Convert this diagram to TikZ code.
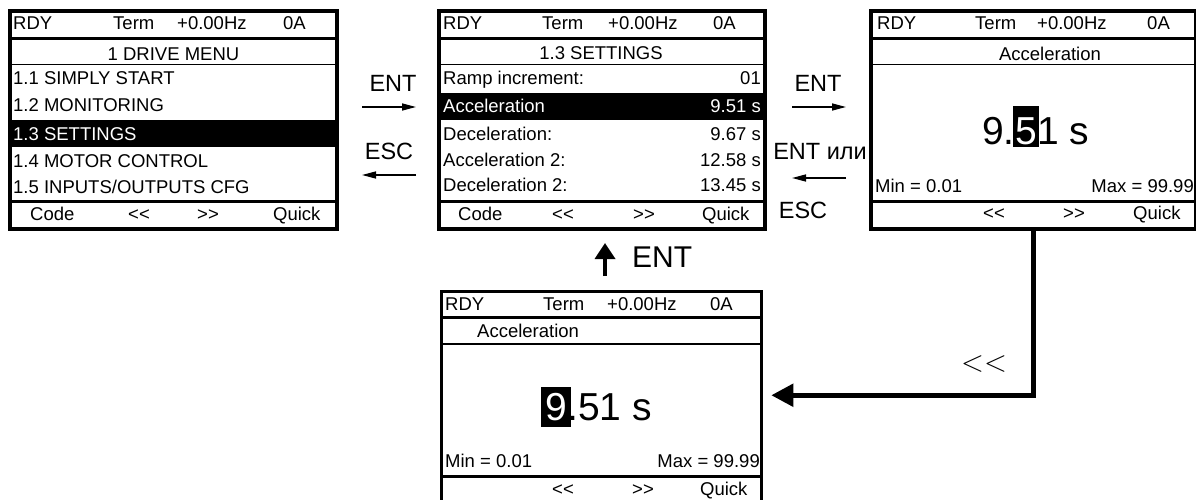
\documentclass[tikz,border=0pt]{standalone}
\usepackage{fontspec}
\setmainfont{Liberation Sans}[Ligatures=TeXOff]
\newfontfamily\lmr{Latin Modern Roman}[Ligatures=TeXOff]
\usetikzlibrary{arrows.meta}
\begin{document}
\begin{tikzpicture}[x=1pt,y=-1pt,
  t/.style={font=\fontsize{18.5}{20}\selectfont, inner sep=0, anchor=base west},
  tr/.style={t, anchor=base east},
  tc/.style={t, anchor=base},
  big/.style={font=\fontsize{39}{40}\selectfont, inner sep=0, anchor=base west},
  lbl/.style={font=\fontsize{23.5}{25}\selectfont, inner sep=0, anchor=base},
  lcdframe/.style={draw, line width=3.5pt, inner sep=0},
  thickrule/.style={line width=3.5pt},
  thinrule/.style={line width=1.2pt},
  smallarrow/.style={line width=1.5pt, -{Triangle[length=14pt,width=7pt]}},
  bigarrow/.style={line width=5pt, -{Triangle[length=22pt,width=22pt]}},
  uparrow/.style={line width=3.5pt, -{Triangle[length=16pt,width=20pt]}},
  hl/.style={fill=black},
  wt/.style={text=white}
]
\useasboundingbox (0,0) rectangle (1196,500);
\fill[white] (0,0) rectangle (1196,500);

% ---------- highlights (under frames) ----------
\fill[hl] (10,120) rectangle (337,147);
\fill[hl] (439,93) rectangle (765,120);

% ---------- screen frames ----------
\node[lcdframe, minimum width=327pt, minimum height=218pt] (s1) at (173.5,120) {};
\node[lcdframe, minimum width=326pt, minimum height=218pt] (s2) at (602,120) {};
\node[lcdframe, minimum width=325pt, minimum height=218pt] (s3) at (1033.5,120) {};
\node[lcdframe, minimum width=320pt, minimum height=211.5pt] (s4) at (601.5,397.25) {};

% ---------- inner rules ----------
\foreach \l/\r in {10/337, 439/765, 871/1196} {
  \draw[thickrule] (\l,38.5) -- (\r,38.5);
  \draw[thinrule] (\l,64.5) -- (\r,64.5);
  \draw[thickrule] (\l,201.5) -- (\r,201.5);
}
\draw[thickrule] (441.5,317.5) -- (761.5,317.5);
\draw[thinrule] (441.5,344) -- (761.5,344);
\draw[thickrule] (441.5,476.5) -- (761.5,476.5);

% ---------- screen 1 ----------
\node[t] (s1h1) at (13,30) {RDY};
\node[t] (s1h2) at (113,30) {Term};
\node[t] (s1h3) at (177,30) {+0.00Hz};
\node[t] (s1h4) at (283,30) {0A};
\node[tc] (s1ti) at (173.5,61) {1 DRIVE MENU};
\node[t] (s1r1) at (13,85) {1.1 SIMPLY START};
\node[t] (s1r2) at (13,112) {1.2 MONITORING};
\node[t, wt] (s1r3) at (13,140) {1.3 SETTINGS};
\node[t] (s1r4) at (13,167) {1.4 MOTOR CONTROL};
\node[t] (s1r5) at (13,193) {1.5 INPUTS/OUTPUTS CFG};
\node[t] (s1b1) at (30,220) {Code};
\node[t] (s1b2) at (128,220) {<\kern0pt<};
\node[t] (s1b3) at (197,220) {>\kern0pt>};
\node[t] (s1b4) at (273,220) {Quick};

% ---------- screen 2 ----------
\node[t] (s2h1) at (443,30) {RDY};
\node[t] (s2h2) at (542,30) {Term};
\node[t] (s2h3) at (608,30) {+0.00Hz};
\node[t] (s2h4) at (713,30) {0A};
\node[tc] (s2ti) at (601,60) {1.3 SETTINGS};
\node[t] (s2r1) at (443,85) {Ramp increment:};
\node[tr] (s2v1) at (761,85) {01};
\node[t, wt] (s2r2) at (443,113) {Acceleration};
\node[tr, wt] (s2v2) at (761,113) {9.51 s};
\node[t] (s2r3) at (443,140) {Deceleration:};
\node[tr] (s2v3) at (761,140) {9.67 s};
\node[t] (s2r4) at (443,166) {Acceleration 2:};
\node[tr] (s2v4) at (761,166) {12.58 s};
\node[t] (s2r5) at (443,191) {Deceleration 2:};
\node[tr] (s2v5) at (761,191) {13.45 s};
\node[t] (s2b1) at (458,220) {Code};
\node[t] (s2b2) at (552,220) {<\kern0pt<};
\node[t] (s2b3) at (633,220) {>\kern0pt>};
\node[t] (s2b4) at (702,220) {Quick};

% ---------- screen 3 ----------
\node[t] (s3h1) at (877,30) {RDY};
\node[t] (s3h2) at (975,30) {Term};
\node[t] (s3h3) at (1037,30) {+0.00Hz};
\node[t] (s3h4) at (1147,30) {0A};
\node[tc] (s3ti) at (1050,61) {Acceleration};
\node[big] (s3n1) at (982,144) {9.};
\node[big, hl, wt, inner xsep=2.5pt, text height=38pt, text depth=3pt, anchor=base west]
  (s3n2) at ([xshift=-2.5pt]s3n1.base east) {5};
\node[big] (s3n3) at ([xshift=-2.5pt]s3n2.base east) {1 s};
\node[t] (s3mn) at (875,192) {Min = 0.01};
\node[tr] (s3mx) at (1194,192) {Max = 99.99};
\node[t] (s3b2) at (983,219) {<\kern0pt<};
\node[t] (s3b3) at (1063,219) {>\kern0pt>};
\node[t] (s3b4) at (1133,219) {Quick};

% ---------- screen 4 ----------
\node[t] (s4h1) at (445,310) {RDY};
\node[t] (s4h2) at (543,310) {Term};
\node[t] (s4h3) at (607,310) {+0.00Hz};
\node[t] (s4h4) at (710,310) {0A};
\node[t] (s4ti) at (477,337) {Acceleration};
\node[big, hl, wt, inner xsep=4pt, text height=33pt, text depth=7pt, anchor=base west]
  (s4n1) at (541,420) {9};
\node[big] (s4n2) at ([xshift=-4pt]s4n1.base east) {.51 s};
\node[t] (s4mn) at (445,467) {Min = 0.01};
\node[tr] (s4mx) at (760,467) {Max = 99.99};
\node[t] (s4b2) at (552,495) {<\kern0pt<};
\node[t] (s4b3) at (632,495) {>\kern0pt>};
\node[t] (s4b4) at (700,495) {Quick};

% ---------- arrows between screens ----------
\coordinate (a1s) at (362,107); \coordinate (a1e) at (416,107);
\coordinate (a2s) at (416,175); \coordinate (a2e) at (362,175);
\coordinate (a3s) at (792,107); \coordinate (a3e) at (846,107);
\coordinate (a4s) at (846,178); \coordinate (a4e) at (792,178);
\draw[smallarrow] (a1s) -- (a1e);
\draw[smallarrow] (a2s) -- (a2e);
\draw[smallarrow] (a3s) -- (a3e);
\draw[smallarrow] (a4s) -- (a4e);
\node[lbl] (l1) at (393,92) {ENT};
\node[lbl] (l2) at (389,160) {ESC};
\node[lbl] (l3) at (818,92) {ENT};
\node[lbl] (l4) at (820,160) {ENT или};
\node[lbl] (l5) at (803,218) {ESC};

% ---------- up arrow ENT ----------
\coordinate (u1) at (605,276);
\coordinate (u2) at (605,243);
\draw[uparrow] (u1) -- (u2);
\node[font=\fontsize{30}{32}\selectfont, inner sep=0, anchor=base west] (l6) at (632,267) {ENT};

% ---------- long connector ----------
\draw[bigarrow] (s3.south) |- ([xshift=8pt,yshift=2pt]s4.east);
\node[font=\lmr\fontsize{30}{30}\selectfont, inner sep=0, anchor=base west] (l7) at (961,371) {<\kern0pt<};
\end{tikzpicture}
\end{document}
